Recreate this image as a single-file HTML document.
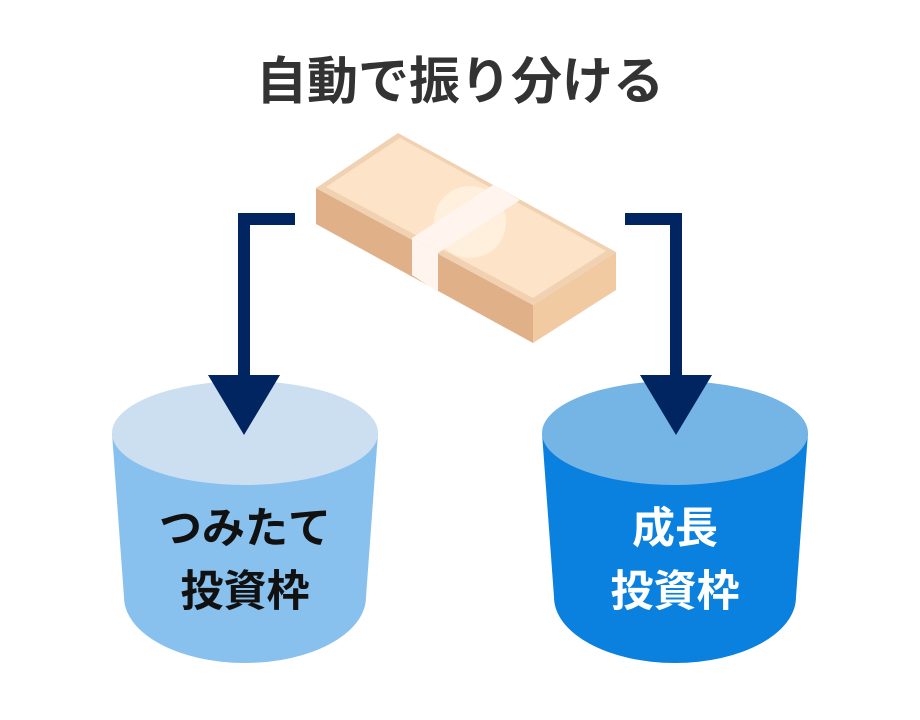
<!DOCTYPE html>
<html><head><meta charset="utf-8"><style>
html,body{margin:0;padding:0;background:#fff;width:920px;height:720px;overflow:hidden}
svg{display:block}
text{font-family:"Liberation Sans","Noto Sans CJK JP",sans-serif;font-weight:bold}
</style></head><body>
<svg width="920" height="720" viewBox="0 0 920 720">
<text x="460" y="99" text-anchor="middle" font-size="51" fill="#333">自動で振り分ける</text>
<!-- money -->
<polygon points="316,188 533,305 533,343 316,224" fill="#e0b088"/>
<polygon points="533,305 616,252 616,290 533,343" fill="#f2caa2"/>
<polygon points="398,133 616,252 533,305 316,188" fill="#f0d2b2"/>
<polygon points="400,138 606,251 533,298 326,187" fill="#fde4c8"/>
<clipPath id="tc"><polygon points="400,138 606,251 533,298 326,187"/></clipPath>
<circle cx="470" cy="222" r="36" fill="#fff3e6" opacity="0.7" clip-path="url(#tc)"/>
<polygon points="493,185 520,200 438,253 412,238" fill="#fff5ee"/>
<polygon points="412,238 438,253 438,292 412,275" fill="#fff5ee"/>
<!-- left cylinder -->
<path d="M112,433 L124,597 A121,66 0 0 0 366,597 L378,433 Z" fill="#88c0ee"/>
<ellipse cx="245" cy="433" rx="133" ry="52" fill="#cbdff0"/>
<!-- right cylinder -->
<path d="M542,433 L554,597 A121,66 0 0 0 796,597 L808,433 Z" fill="#0a80df"/>
<ellipse cx="675" cy="433" rx="133" ry="52" fill="#74b5e6"/>
<!-- arrows -->
<path d="M295,219 L244,219 L244,380" fill="none" stroke="#002560" stroke-width="12"/>
<polygon points="208,375 280,375 244,435" fill="#002560"/>
<path d="M625,219 L676,219 L676,380" fill="none" stroke="#002560" stroke-width="12"/>
<polygon points="640,375 712,375 676,435" fill="#002560"/>
<text x="245" y="543" text-anchor="middle" font-size="43" fill="#111">つみたて</text>
<text x="245" y="606" text-anchor="middle" font-size="43" fill="#111">投資枠</text>
<text x="675" y="543" text-anchor="middle" font-size="43" fill="#fff">成長</text>
<text x="675" y="606" text-anchor="middle" font-size="43" fill="#fff">投資枠</text>
</svg>
</body></html>
